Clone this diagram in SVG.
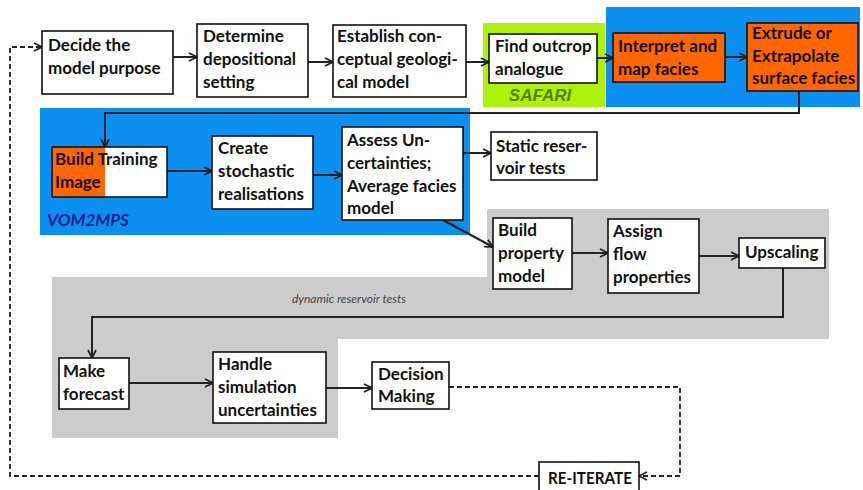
<svg xmlns="http://www.w3.org/2000/svg" width="863" height="490" viewBox="0 0 863 490">
<defs>
<style>
.bx{fill:#fff;stroke:#111;stroke-width:1.6}
.or{fill:#ff6600;stroke:#111;stroke-width:1.6}
.t{font-family:Lato,"Liberation Sans",sans-serif;font-weight:bold;font-size:17px;fill:#111}
.c{fill:none;stroke:#222;stroke-width:2}
.d{fill:none;stroke:#222;stroke-width:1.8;stroke-dasharray:5 3}
</style>
<marker id="arr" viewBox="0 0 10 10" refX="9" refY="5" markerWidth="10" markerHeight="10" markerUnits="userSpaceOnUse" orient="auto">
<path d="M1,1 L9,5 L1,9" fill="none" stroke="#222" stroke-width="1.8"/>
</marker>
</defs>
<rect width="863" height="490" fill="#fff"/>
<g id="regions">
<rect x="483" y="23" width="122" height="84" fill="#aef20c"/>
<rect x="606" y="7" width="254" height="100" fill="#0b8ff0"/>
<rect x="40" y="108" width="430" height="127" fill="#0b8ff0"/>
<polygon points="487,209 829,209 829,339 338,339 338,438 52,438 52,277 487,277" fill="#cccccc"/>
<text x="540" y="101" text-anchor="middle" font-family="Liberation Sans, sans-serif" font-style="italic" font-weight="bold" font-size="17" fill="#558000">SAFARI</text>
<text x="47" y="226" font-family="Lato, sans-serif" font-style="italic" font-weight="bold" font-size="17" fill="#0a1f8f">VOM2MPS</text>
<text x="349" y="303" text-anchor="middle" font-family="Lato, sans-serif" font-style="italic" font-size="12" fill="#444">dynamic reservoir tests</text>
</g>
<g id="connectors">
<path class="c" d="M173,57 H197" marker-end="url(#arr)"/>
<path class="c" d="M308,62 H333" marker-end="url(#arr)"/>
<path class="c" d="M466,62 H489" marker-end="url(#arr)"/>
<path class="c" d="M597,58 H613" marker-end="url(#arr)"/>
<path class="c" d="M725,57 H747" marker-end="url(#arr)"/>
<path class="c" d="M799,91 V113 H105 V147" marker-end="url(#arr)"/>
<path class="c" d="M167,171 H212" marker-end="url(#arr)"/>
<path class="c" d="M313,175 H342" marker-end="url(#arr)"/>
<path class="c" d="M463,153 H491" marker-end="url(#arr)"/>
<path class="c" d="M443,220 L493,247" marker-end="url(#arr)"/>
<path class="c" d="M572,253 H608" marker-end="url(#arr)"/>
<path class="c" d="M699,256 H739" marker-end="url(#arr)"/>
<path class="c" d="M783,268 V317 H92 V358" marker-end="url(#arr)"/>
<path class="c" d="M129,383 H213" marker-end="url(#arr)"/>
<path class="c" d="M326,388 H372" marker-end="url(#arr)"/>
<path class="d" d="M449,387 H680 V476 H639" marker-end="url(#arr)"/>
<path class="d" d="M539,476 H10 V47 H42" marker-end="url(#arr)"/>
</g>
<g id="decide"><rect class="bx" x="42" y="31" width="131" height="63"/><text class="t" x="48" y="51">Decide the</text><text class="t" x="48" y="74">model purpose</text></g>
<g id="determine"><rect class="bx" x="197" y="24" width="111" height="73"/><text class="t" x="203" y="42">Determine</text><text class="t" x="203" y="65">depositional</text><text class="t" x="203" y="88">setting</text></g>
<g id="establish"><rect class="bx" x="333" y="25" width="133" height="72"/><text class="t" x="337" y="42">Establish con-</text><text class="t" x="337" y="65">ceptual geologi-</text><text class="t" x="337" y="88">cal model</text></g>
<g id="outcrop"><rect class="bx" x="489" y="34" width="108" height="49"/><text class="t" x="495" y="52">Find outcrop</text><text class="t" x="495" y="75">analogue</text></g>
<g id="interpret"><rect class="or" x="613" y="33" width="112" height="49"/><text class="t" x="618" y="52">Interpret and</text><text class="t" x="618" y="75">map facies</text></g>
<g id="extrude"><rect class="or" x="747" y="23" width="111" height="68"/><text class="t" x="752" y="39">Extrude or</text><text class="t" x="752" y="62">Extrapolate</text><text class="t" x="752" y="84">surface facies</text></g>
<g id="training"><rect x="52" y="147" width="115" height="50" fill="#fff"/><rect x="52" y="147" width="53" height="50" fill="#ff6600"/><rect x="52" y="147" width="115" height="50" fill="none" stroke="#111" stroke-width="1.6"/><text class="t" x="55" y="165">Build Training</text><text class="t" x="55" y="188">Image</text></g>
<g id="create"><rect class="bx" x="212" y="136" width="101" height="73"/><text class="t" x="218" y="154">Create</text><text class="t" x="218" y="177">stochastic</text><text class="t" x="218" y="200">realisations</text></g>
<g id="assess"><rect class="bx" x="342" y="127" width="121" height="93"/><text class="t" x="347" y="146">Assess Un-</text><text class="t" x="347" y="169">certainties;</text><text class="t" x="347" y="192">Average facies</text><text class="t" x="347" y="214">model</text></g>
<g id="static"><rect class="bx" x="491" y="132" width="106" height="48"/><text class="t" x="496" y="152">Static reser-</text><text class="t" x="496" y="174">voir tests</text></g>
<g id="property"><rect class="bx" x="493" y="218" width="79" height="71"/><text class="t" x="498" y="236">Build</text><text class="t" x="498" y="259">property</text><text class="t" x="498" y="282">model</text></g>
<g id="assign"><rect class="bx" x="608" y="219" width="91" height="74"/><text class="t" x="613" y="237">Assign</text><text class="t" x="613" y="260">flow</text><text class="t" x="613" y="283">properties</text></g>
<g id="upscaling"><rect class="bx" x="739" y="238" width="86" height="30"/><text class="t" x="745" y="258">Upscaling</text></g>
<g id="forecast"><rect class="bx" x="59" y="358" width="70" height="51"/><text class="t" x="63" y="377">Make</text><text class="t" x="63" y="400">forecast</text></g>
<g id="handle"><rect class="bx" x="213" y="352" width="113" height="71"/><text class="t" x="218" y="370">Handle</text><text class="t" x="218" y="393">simulation</text><text class="t" x="218" y="416">uncertainties</text></g>
<g id="decision"><rect class="bx" x="372" y="362" width="77" height="47"/><text class="t" x="378" y="380">Decision</text><text class="t" x="378" y="402">Making</text></g>
<g id="reiterate"><rect class="bx" x="539" y="462" width="100" height="32"/><text class="t" x="548" y="484" textLength="84" lengthAdjust="spacingAndGlyphs">RE-ITERATE</text></g>
</svg>
